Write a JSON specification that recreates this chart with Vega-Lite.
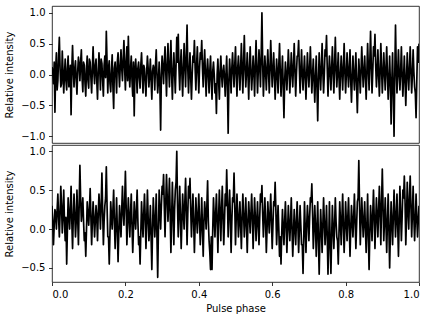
{
"$schema": "https://vega.github.io/schema/vega-lite/v6.json",
"padding": {"left": 4, "top": 5, "right": 8, "bottom": 4},
"spacing": 0,
"config": {
 "font": "DejaVu Sans",
 "view": {"stroke": "#000000", "strokeWidth": 0.8},
 "axis": {"grid": false, "domain": false, "labelFont": "DejaVu Sans", "titleFont": "DejaVu Sans", "labelFontSize": 10, "titleFontSize": 10, "titleFontWeight": "normal", "labelColor": "#000000", "titleColor": "#000000", "tickColor": "#000000", "tickSize": 3.5, "tickWidth": 0.8, "labelPadding": 3.5}
},
"data": {"values": [
{"x":0,"t":0.12,"b":0.3},{"x":0.004,"t":-0.15,"b":-0.2},{"x":0.008,"t":-0.61,"b":0.25},{"x":0.012,"t":0.35,"b":0.0},{"x":0.016,"t":-0.1,"b":0.45},{"x":0.02,"t":0.6,"b":-0.1},{"x":0.024,"t":-0.2,"b":0.55},{"x":0.028,"t":0.38,"b":-0.05},{"x":0.032,"t":-0.3,"b":0.5},{"x":0.036,"t":0.25,"b":-0.15},
{"x":0.04,"t":-0.25,"b":-0.45},{"x":0.044,"t":0.3,"b":0.4},{"x":0.048,"t":-0.05,"b":0.0},{"x":0.052,"t":-0.65,"b":0.55},{"x":0.056,"t":0.47,"b":-0.25},{"x":0.06,"t":-0.2,"b":0.45},{"x":0.064,"t":0.22,"b":-0.1},{"x":0.068,"t":-0.32,"b":0.5},{"x":0.072,"t":0.28,"b":-0.2},{"x":0.076,"t":-0.1,"b":0.82},
{"x":0.08,"t":0.4,"b":0.1},{"x":0.084,"t":-0.28,"b":0.4},{"x":0.088,"t":0.15,"b":-0.15},{"x":0.092,"t":-0.35,"b":-0.35},{"x":0.096,"t":0.3,"b":0.35},{"x":0.1,"t":-0.22,"b":0.05},{"x":0.104,"t":0.2,"b":0.52},{"x":0.108,"t":-0.3,"b":-0.2},{"x":0.112,"t":0.45,"b":0.35},{"x":0.116,"t":-0.15,"b":-0.1},
{"x":0.12,"t":0.25,"b":0.3},{"x":0.124,"t":-0.4,"b":-0.15},{"x":0.128,"t":0.35,"b":0.45},{"x":0.132,"t":-0.25,"b":0.0},{"x":0.136,"t":0.18,"b":0.72},{"x":0.14,"t":-0.35,"b":-0.2},{"x":0.144,"t":0.3,"b":0.3},{"x":0.148,"t":0.7,"b":0.8},{"x":0.152,"t":-0.3,"b":-0.1},{"x":0.156,"t":0.22,"b":-0.45},
{"x":0.16,"t":-0.28,"b":0.35},{"x":0.164,"t":0.32,"b":0.0},{"x":0.168,"t":-0.55,"b":0.5},{"x":0.172,"t":0.2,"b":-0.25},{"x":0.176,"t":-0.3,"b":0.4},{"x":0.18,"t":0.35,"b":-0.42},{"x":0.184,"t":-0.2,"b":0.3},{"x":0.188,"t":0.4,"b":-0.1},{"x":0.192,"t":-0.1,"b":0.55},{"x":0.196,"t":0.55,"b":0.05},
{"x":0.2,"t":-0.25,"b":0.74},{"x":0.204,"t":0.45,"b":-0.2},{"x":0.208,"t":0.62,"b":0.4},{"x":0.212,"t":-0.2,"b":-0.1},{"x":0.216,"t":0.3,"b":0.45},{"x":0.22,"t":-0.35,"b":-0.3},{"x":0.224,"t":-0.67,"b":0.35},{"x":0.228,"t":0.25,"b":0.0},{"x":0.232,"t":-0.3,"b":0.5},{"x":0.236,"t":0.2,"b":-0.2},
{"x":0.24,"t":-0.22,"b":-0.45},{"x":0.244,"t":0.35,"b":0.35},{"x":0.248,"t":-0.3,"b":-0.1},{"x":0.252,"t":0.1,"b":0.45},{"x":0.256,"t":-0.35,"b":-0.25},{"x":0.26,"t":0.3,"b":0.5},{"x":0.264,"t":-0.2,"b":-0.15},{"x":0.268,"t":0.25,"b":0.3},{"x":0.272,"t":-0.4,"b":-0.52},{"x":0.276,"t":0.15,"b":0.4},
{"x":0.28,"t":-0.25,"b":-0.1},{"x":0.284,"t":0.4,"b":0.45},{"x":0.288,"t":-0.3,"b":-0.62},{"x":0.292,"t":0.2,"b":0.5},{"x":0.296,"t":-0.9,"b":0.0},{"x":0.3,"t":0.3,"b":0.55},{"x":0.304,"t":-0.15,"b":0.7},{"x":0.308,"t":0.45,"b":-0.1},{"x":0.312,"t":-0.35,"b":0.7},{"x":0.316,"t":0.5,"b":0.1},
{"x":0.32,"t":-0.2,"b":0.65},{"x":0.324,"t":0.55,"b":-0.3},{"x":0.328,"t":-0.4,"b":0.6},{"x":0.332,"t":0.35,"b":-0.2},{"x":0.336,"t":-0.3,"b":0.5},{"x":0.34,"t":0.6,"b":1.0},{"x":0.344,"t":0.65,"b":-0.1},{"x":0.348,"t":-0.25,"b":0.55},{"x":0.352,"t":0.4,"b":-0.25},{"x":0.356,"t":-0.35,"b":0.45},
{"x":0.36,"t":0.5,"b":0.0},{"x":0.364,"t":-0.2,"b":0.65},{"x":0.368,"t":0.8,"b":-0.2},{"x":0.372,"t":-0.3,"b":0.55},{"x":0.376,"t":0.35,"b":0.65},{"x":0.38,"t":-0.4,"b":-0.1},{"x":0.384,"t":0.3,"b":0.45},{"x":0.388,"t":0.55,"b":-0.3},{"x":0.392,"t":-0.25,"b":0.4},{"x":0.396,"t":0.45,"b":-0.05},
{"x":0.4,"t":-0.3,"b":0.45},{"x":0.404,"t":0.35,"b":-0.2},{"x":0.408,"t":0.55,"b":0.4},{"x":0.412,"t":-0.2,"b":-0.35},{"x":0.416,"t":0.4,"b":0.35},{"x":0.42,"t":-0.35,"b":0.0},{"x":0.424,"t":0.25,"b":0.62},{"x":0.428,"t":-0.3,"b":-0.15},{"x":0.432,"t":0.3,"b":-0.52},{"x":0.436,"t":-0.4,"b":-0.52},
{"x":0.44,"t":0.2,"b":0.4},{"x":0.444,"t":-0.3,"b":-0.1},{"x":0.448,"t":-0.63,"b":0.45},{"x":0.452,"t":0.25,"b":-0.3},{"x":0.456,"t":-0.4,"b":0.5},{"x":0.46,"t":0.3,"b":-0.15},{"x":0.464,"t":-0.2,"b":0.55},{"x":0.468,"t":0.15,"b":-0.2},{"x":0.472,"t":-0.35,"b":0.45},{"x":0.476,"t":0.3,"b":0.76},
{"x":0.48,"t":-0.95,"b":-0.1},{"x":0.484,"t":0.25,"b":0.5},{"x":0.488,"t":-0.3,"b":-0.3},{"x":0.492,"t":0.35,"b":0.4},{"x":0.496,"t":-0.2,"b":0.72},{"x":0.5,"t":0.45,"b":-0.2},{"x":0.504,"t":-0.35,"b":0.45},{"x":0.508,"t":0.3,"b":-0.1},{"x":0.512,"t":-0.25,"b":0.35},{"x":0.516,"t":0.5,"b":-0.25},
{"x":0.52,"t":-0.3,"b":0.45},{"x":0.524,"t":0.63,"b":-0.1},{"x":0.528,"t":-0.2,"b":0.4},{"x":0.532,"t":0.35,"b":-0.3},{"x":0.536,"t":-0.4,"b":0.35},{"x":0.54,"t":0.45,"b":-0.05},{"x":0.544,"t":-0.25,"b":0.45},{"x":0.548,"t":0.3,"b":-0.25},{"x":0.552,"t":-0.35,"b":0.4},{"x":0.556,"t":0.55,"b":-0.15},
{"x":0.56,"t":-0.3,"b":0.35},{"x":0.564,"t":0.4,"b":-0.2},{"x":0.568,"t":-0.2,"b":0.45},{"x":0.572,"t":1.0,"b":0.56},{"x":0.576,"t":-0.35,"b":-0.1},{"x":0.58,"t":0.3,"b":0.4},{"x":0.584,"t":-0.25,"b":-0.3},{"x":0.588,"t":0.4,"b":0.35},{"x":0.592,"t":-0.3,"b":-0.05},{"x":0.596,"t":0.55,"b":0.45},
{"x":0.6,"t":-0.2,"b":-0.25},{"x":0.604,"t":0.35,"b":0.35},{"x":0.608,"t":-0.4,"b":0.6},{"x":0.612,"t":0.25,"b":-0.2},{"x":0.616,"t":-0.3,"b":0.3},{"x":0.62,"t":0.5,"b":-0.35},{"x":0.624,"t":-0.35,"b":-0.45},{"x":0.628,"t":0.3,"b":0.25},{"x":0.632,"t":-0.7,"b":-0.2},{"x":0.636,"t":0.2,"b":0.35},
{"x":0.64,"t":-0.25,"b":-0.3},{"x":0.644,"t":0.4,"b":0.3},{"x":0.648,"t":-0.3,"b":-0.15},{"x":0.652,"t":0.35,"b":0.4},{"x":0.656,"t":-0.2,"b":-0.35},{"x":0.66,"t":0.5,"b":0.25},{"x":0.664,"t":-0.35,"b":-0.2},{"x":0.668,"t":0.3,"b":0.35},{"x":0.672,"t":0.55,"b":-0.3},{"x":0.676,"t":-0.3,"b":0.3},
{"x":0.68,"t":0.4,"b":-0.2},{"x":0.684,"t":-0.25,"b":-0.57},{"x":0.688,"t":0.3,"b":0.35},{"x":0.692,"t":-0.4,"b":-0.3},{"x":0.696,"t":0.35,"b":0.3},{"x":0.7,"t":-0.2,"b":-0.15},{"x":0.704,"t":0.45,"b":0.4},{"x":0.708,"t":-0.3,"b":0.58},{"x":0.712,"t":0.25,"b":-0.25},{"x":0.716,"t":-0.45,"b":0.3},
{"x":0.72,"t":0.3,"b":-0.35},{"x":0.724,"t":-0.75,"b":0.35},{"x":0.728,"t":0.35,"b":-0.58},{"x":0.732,"t":-0.25,"b":0.25},{"x":0.736,"t":0.5,"b":-0.3},{"x":0.74,"t":-0.3,"b":0.4},{"x":0.744,"t":0.4,"b":-0.2},{"x":0.748,"t":0.63,"b":0.3},{"x":0.752,"t":-0.35,"b":-0.58},{"x":0.756,"t":0.3,"b":0.35},
{"x":0.76,"t":-0.25,"b":-0.57},{"x":0.764,"t":0.45,"b":0.3},{"x":0.768,"t":-0.3,"b":-0.25},{"x":0.772,"t":0.6,"b":0.4},{"x":0.776,"t":-0.2,"b":-0.1},{"x":0.78,"t":0.35,"b":-0.45},{"x":0.784,"t":-0.4,"b":0.35},{"x":0.788,"t":0.3,"b":-0.2},{"x":0.792,"t":-0.25,"b":0.45},{"x":0.796,"t":0.5,"b":-0.3},
{"x":0.8,"t":-0.3,"b":0.35},{"x":0.804,"t":0.35,"b":-0.15},{"x":0.808,"t":-0.2,"b":0.4},{"x":0.812,"t":0.4,"b":-0.35},{"x":0.816,"t":-0.45,"b":0.3},{"x":0.82,"t":0.3,"b":-0.1},{"x":0.824,"t":-0.25,"b":0.45},{"x":0.828,"t":0.35,"b":-0.25},{"x":0.832,"t":-0.62,"b":0.35},{"x":0.836,"t":0.25,"b":0.88},
{"x":0.84,"t":-0.3,"b":-0.2},{"x":0.844,"t":0.45,"b":0.4},{"x":0.848,"t":-0.2,"b":-0.1},{"x":0.852,"t":0.3,"b":0.35},{"x":0.856,"t":-0.4,"b":-0.3},{"x":0.86,"t":0.5,"b":0.45},{"x":0.864,"t":-0.25,"b":-0.52},{"x":0.868,"t":0.7,"b":0.3},{"x":0.872,"t":-0.3,"b":-0.15},{"x":0.876,"t":0.45,"b":0.5},
{"x":0.88,"t":0.65,"b":-0.25},{"x":0.884,"t":-0.2,"b":0.4},{"x":0.888,"t":0.4,"b":-0.1},{"x":0.892,"t":-0.35,"b":0.55},{"x":0.896,"t":0.5,"b":-0.2},{"x":0.9,"t":-0.3,"b":0.77},{"x":0.904,"t":0.35,"b":-0.15},{"x":0.908,"t":-0.25,"b":0.4},{"x":0.912,"t":0.45,"b":-0.3},{"x":0.916,"t":-0.4,"b":0.45},
{"x":0.92,"t":0.3,"b":-0.5},{"x":0.924,"t":-0.8,"b":0.35},{"x":0.928,"t":0.35,"b":-0.2},{"x":0.932,"t":-1.0,"b":0.5},{"x":0.936,"t":0.8,"b":-0.1},{"x":0.94,"t":-0.3,"b":0.45},{"x":0.944,"t":0.4,"b":-0.35},{"x":0.948,"t":-0.25,"b":0.55},{"x":0.952,"t":0.45,"b":-0.15},{"x":0.956,"t":-0.35,"b":0.5},
{"x":0.96,"t":0.3,"b":0.68},{"x":0.964,"t":-0.5,"b":-0.2},{"x":0.968,"t":0.35,"b":0.6},{"x":0.972,"t":-0.25,"b":0.0},{"x":0.976,"t":0.45,"b":0.68},{"x":0.98,"t":-0.3,"b":-0.1},{"x":0.984,"t":0.4,"b":0.55},{"x":0.988,"t":-0.2,"b":-0.15},{"x":0.992,"t":-0.7,"b":0.45},{"x":0.996,"t":0.45,"b":-0.1},
{"x":1.0,"t":0.5,"b":0.3},
{"x":0.002,"t":0.05,"b":0.1},{"x":0.006,"t":0.2,"b":0.05},{"x":0.01,"t":0.1,"b":0.2},{"x":0.014,"t":-0.25,"b":0.25},{"x":0.018,"t":0.3,"b":0.15},{"x":0.022,"t":0.1,"b":0.2},{"x":0.026,"t":-0.15,"b":0.3},{"x":0.03,"t":0.05,"b":0.2},{"x":0.034,"t":0.0,"b":0.1},{"x":0.038,"t":-0.1,"b":0.15},
{"x":0.042,"t":0.1,"b":0.0},{"x":0.046,"t":-0.2,"b":0.2},{"x":0.05,"t":0.15,"b":0.25},{"x":0.054,"t":0.1,"b":0.1},{"x":0.058,"t":0.05,"b":0.15},{"x":0.062,"t":0.1,"b":0.2},{"x":0.066,"t":-0.1,"b":0.1},{"x":0.07,"t":0.05,"b":0.15},{"x":0.074,"t":0.15,"b":0.3},{"x":0.078,"t":0.2,"b":0.4},
{"x":0.082,"t":-0.05,"b":0.25},{"x":0.086,"t":0.2,"b":0.1},{"x":0.09,"t":-0.15,"b":-0.05},{"x":0.094,"t":0.1,"b":0.0},{"x":0.098,"t":-0.1,"b":0.2},{"x":0.102,"t":0.25,"b":0.25},{"x":0.106,"t":-0.05,"b":0.15},{"x":0.11,"t":0.1,"b":0.1},{"x":0.114,"t":0.05,"b":0.15},{"x":0.118,"t":0.15,"b":0.1},
{"x":0.122,"t":-0.1,"b":0.15},{"x":0.126,"t":0.05,"b":0.2},{"x":0.13,"t":0.1,"b":0.25},{"x":0.134,"t":0.25,"b":0.3},{"x":0.138,"t":-0.1,"b":0.25},{"x":0.142,"t":0.15,"b":0.1},{"x":0.146,"t":-0.05,"b":0.4},{"x":0.15,"t":0.2,"b":0.3},{"x":0.154,"t":0.1,"b":-0.1},{"x":0.158,"t":-0.15,"b":-0.05},
{"x":0.162,"t":0.05,"b":0.15},{"x":0.166,"t":-0.2,"b":0.25},{"x":0.17,"t":0.1,"b":0.1},{"x":0.174,"t":0.0,"b":0.05},{"x":0.178,"t":0.2,"b":0.0},{"x":0.182,"t":0.05,"b":-0.05},{"x":0.186,"t":0.15,"b":0.1},{"x":0.19,"t":0.1,"b":0.25},{"x":0.194,"t":0.25,"b":0.2},{"x":0.198,"t":0.1,"b":0.35},
{"x":0.202,"t":0.2,"b":0.3},{"x":0.206,"t":-0.1,"b":0.1},{"x":0.21,"t":0.05,"b":0.15},{"x":0.214,"t":0.1,"b":0.2},{"x":0.218,"t":-0.1,"b":0.05},{"x":0.222,"t":0.2,"b":0.0},{"x":0.226,"t":0.05,"b":0.15},{"x":0.23,"t":0.0,"b":0.25},{"x":0.234,"t":0.1,"b":0.1},{"x":0.238,"t":-0.05,"b":-0.1},
{"x":0.242,"t":0.15,"b":-0.05},{"x":0.246,"t":0.0,"b":0.1},{"x":0.25,"t":0.15,"b":0.2},{"x":0.254,"t":-0.15,"b":0.15},{"x":0.258,"t":0.05,"b":0.1},{"x":0.262,"t":0.1,"b":0.15},{"x":0.266,"t":0.0,"b":0.0},{"x":0.27,"t":-0.1,"b":-0.1},{"x":0.274,"t":0.05,"b":0.0},{"x":0.278,"t":0.1,"b":0.15},
{"x":0.282,"t":0.15,"b":0.1},{"x":0.286,"t":0.0,"b":-0.1},{"x":0.29,"t":-0.1,"b":0.0},{"x":0.294,"t":-0.2,"b":0.25},{"x":0.298,"t":0.0,"b":0.3},{"x":0.302,"t":0.1,"b":0.45},{"x":0.306,"t":0.2,"b":0.3},{"x":0.31,"t":0.05,"b":0.35},{"x":0.314,"t":0.15,"b":0.4},{"x":0.318,"t":0.1,"b":0.35},
{"x":0.322,"t":0.2,"b":0.2},{"x":0.326,"t":0.0,"b":0.15},{"x":0.33,"t":0.05,"b":0.2},{"x":0.334,"t":0.05,"b":0.25},{"x":0.338,"t":0.15,"b":0.6},{"x":0.342,"t":0.2,"b":0.3},{"x":0.346,"t":0.1,"b":0.2},{"x":0.35,"t":0.15,"b":0.15},{"x":0.354,"t":0.0,"b":0.1},{"x":0.358,"t":0.1,"b":0.2},
{"x":0.362,"t":0.15,"b":0.35},{"x":0.366,"t":0.3,"b":0.25},{"x":0.37,"t":0.1,"b":0.2},{"x":0.374,"t":0.05,"b":0.4},{"x":0.378,"t":-0.05,"b":0.25},{"x":0.382,"t":0.0,"b":0.2},{"x":0.386,"t":0.2,"b":0.1},{"x":0.39,"t":0.1,"b":0.05},{"x":0.394,"t":0.15,"b":0.15},{"x":0.398,"t":0.05,"b":0.2},
{"x":0.402,"t":0.1,"b":0.1},{"x":0.406,"t":0.25,"b":0.05},{"x":0.41,"t":0.1,"b":0.0},{"x":0.414,"t":0.15,"b":0.1},{"x":0.418,"t":0.0,"b":0.2},{"x":0.422,"t":0.05,"b":0.3},{"x":0.426,"t":0.0,"b":0.1},{"x":0.43,"t":0.05,"b":-0.3},{"x":0.434,"t":-0.1,"b":-0.1},{"x":0.438,"t":0.05,"b":0.0},
{"x":0.442,"t":0.0,"b":0.15},{"x":0.446,"t":-0.15,"b":0.2},{"x":0.45,"t":0.0,"b":0.1},{"x":0.454,"t":-0.1,"b":0.15},{"x":0.458,"t":0.05,"b":0.2},{"x":0.462,"t":0.0,"b":0.25},{"x":0.466,"t":0.05,"b":0.15},{"x":0.47,"t":-0.05,"b":0.1},{"x":0.474,"t":0.0,"b":0.3},{"x":0.478,"t":-0.2,"b":0.35},
{"x":0.482,"t":-0.1,"b":0.2},{"x":0.486,"t":0.0,"b":0.15},{"x":0.49,"t":0.1,"b":0.1},{"x":0.494,"t":0.05,"b":0.35},{"x":0.498,"t":0.15,"b":0.3},{"x":0.502,"t":0.0,"b":0.15},{"x":0.506,"t":0.1,"b":0.2},{"x":0.51,"t":0.05,"b":0.1},{"x":0.514,"t":0.1,"b":0.05},{"x":0.518,"t":0.05,"b":0.15},
{"x":0.522,"t":0.2,"b":0.2},{"x":0.526,"t":0.1,"b":0.1},{"x":0.53,"t":0.05,"b":0.05},{"x":0.534,"t":0.0,"b":0.1},{"x":0.538,"t":0.1,"b":0.15},{"x":0.542,"t":0.05,"b":0.2},{"x":0.546,"t":0.0,"b":0.15},{"x":0.55,"t":0.05,"b":0.1},{"x":0.554,"t":0.15,"b":0.15},{"x":0.558,"t":0.1,"b":0.1},
{"x":0.562,"t":0.05,"b":0.05},{"x":0.566,"t":0.15,"b":0.15},{"x":0.57,"t":0.3,"b":0.35},{"x":0.574,"t":0.2,"b":0.2},{"x":0.578,"t":0.0,"b":0.15},{"x":0.582,"t":0.05,"b":0.1},{"x":0.586,"t":0.1,"b":0.0},{"x":0.59,"t":0.05,"b":0.15},{"x":0.594,"t":0.1,"b":0.2},{"x":0.598,"t":0.15,"b":0.1},
{"x":0.602,"t":0.05,"b":0.05},{"x":0.606,"t":0.0,"b":0.3},{"x":0.61,"t":-0.05,"b":0.25},{"x":0.614,"t":0.0,"b":0.05},{"x":0.618,"t":0.15,"b":0.0},{"x":0.622,"t":0.05,"b":-0.1},{"x":0.626,"t":0.0,"b":-0.05},{"x":0.63,"t":-0.2,"b":0.0},{"x":0.634,"t":-0.1,"b":0.1},{"x":0.638,"t":0.0,"b":0.05},
{"x":0.642,"t":0.05,"b":0.0},{"x":0.646,"t":0.1,"b":0.05},{"x":0.65,"t":0.0,"b":0.1},{"x":0.654,"t":0.05,"b":0.0},{"x":0.658,"t":0.15,"b":-0.05},{"x":0.662,"t":0.05,"b":0.0},{"x":0.666,"t":0.0,"b":0.1},{"x":0.67,"t":0.3,"b":0.05},{"x":0.674,"t":0.1,"b":0.0},{"x":0.678,"t":0.05,"b":0.05},
{"x":0.682,"t":0.0,"b":-0.2},{"x":0.686,"t":0.05,"b":-0.1},{"x":0.69,"t":-0.05,"b":0.0},{"x":0.694,"t":0.0,"b":0.05},{"x":0.698,"t":0.05,"b":0.1},{"x":0.702,"t":0.1,"b":0.15},{"x":0.706,"t":0.05,"b":0.35},{"x":0.71,"t":0.0,"b":0.2},{"x":0.714,"t":-0.1,"b":0.0},{"x":0.718,"t":-0.05,"b":0.05},
{"x":0.722,"t":-0.2,"b":0.0},{"x":0.726,"t":-0.1,"b":-0.15},{"x":0.73,"t":0.05,"b":-0.1},{"x":0.734,"t":0.1,"b":0.0},{"x":0.738,"t":0.05,"b":0.05},{"x":0.742,"t":0.0,"b":0.1},{"x":0.746,"t":0.3,"b":0.0},{"x":0.75,"t":0.1,"b":-0.1},{"x":0.754,"t":0.0,"b":-0.15},{"x":0.758,"t":0.05,"b":-0.2},
{"x":0.762,"t":0.1,"b":-0.1},{"x":0.766,"t":0.05,"b":0.0},{"x":0.77,"t":0.15,"b":0.05},{"x":0.774,"t":0.1,"b":0.1},{"x":0.778,"t":0.05,"b":-0.15},{"x":0.782,"t":-0.05,"b":-0.05},{"x":0.786,"t":0.0,"b":0.1},{"x":0.79,"t":0.05,"b":0.15},{"x":0.794,"t":0.1,"b":0.05},{"x":0.798,"t":0.05,"b":0.0},
{"x":0.802,"t":0.0,"b":0.1},{"x":0.806,"t":0.05,"b":0.15},{"x":0.81,"t":0.1,"b":0.05},{"x":0.814,"t":-0.1,"b":0.0},{"x":0.818,"t":-0.05,"b":0.1},{"x":0.822,"t":0.0,"b":0.15},{"x":0.826,"t":0.05,"b":0.1},{"x":0.83,"t":-0.2,"b":0.05},{"x":0.834,"t":-0.1,"b":0.4},{"x":0.838,"t":0.0,"b":0.3},
{"x":0.842,"t":0.05,"b":0.1},{"x":0.846,"t":0.1,"b":0.15},{"x":0.85,"t":0.05,"b":0.1},{"x":0.854,"t":-0.05,"b":0.0},{"x":0.858,"t":0.05,"b":0.05},{"x":0.862,"t":0.1,"b":-0.1},{"x":0.866,"t":0.2,"b":-0.05},{"x":0.87,"t":0.15,"b":0.1},{"x":0.874,"t":0.05,"b":0.2},{"x":0.878,"t":0.3,"b":0.15},
{"x":0.882,"t":0.15,"b":0.1},{"x":0.886,"t":0.05,"b":0.15},{"x":0.89,"t":0.0,"b":0.25},{"x":0.894,"t":0.05,"b":0.2},{"x":0.898,"t":0.1,"b":0.35},{"x":0.902,"t":0.0,"b":0.3},{"x":0.906,"t":0.05,"b":0.1},{"x":0.91,"t":0.1,"b":0.05},{"x":0.914,"t":0.0,"b":0.1},{"x":0.918,"t":-0.1,"b":0.0},
{"x":0.922,"t":-0.15,"b":-0.05},{"x":0.926,"t":-0.1,"b":0.1},{"x":0.93,"t":-0.3,"b":0.15},{"x":0.934,"t":0.0,"b":0.2},{"x":0.938,"t":0.1,"b":0.15},{"x":0.942,"t":0.05,"b":0.05},{"x":0.946,"t":0.0,"b":0.1},{"x":0.95,"t":0.05,"b":0.2},{"x":0.954,"t":0.0,"b":0.15},{"x":0.958,"t":-0.05,"b":0.4},
{"x":0.962,"t":-0.1,"b":0.35},{"x":0.966,"t":-0.05,"b":0.15},{"x":0.97,"t":0.0,"b":0.25},{"x":0.974,"t":0.1,"b":0.4},{"x":0.978,"t":0.05,"b":0.3},{"x":0.982,"t":0.0,"b":0.2},{"x":0.986,"t":0.05,"b":0.15},{"x":0.99,"t":-0.3,"b":0.1},{"x":0.994,"t":-0.1,"b":0.15},{"x":0.998,"t":0.2,"b":0.1}
]},
"vconcat": [
 {"width": 367, "height": 137,
  "mark": {"type": "line", "color": "#000000", "strokeWidth": 1.7, "strokeJoin": "round", "clip": true},
  "encoding": {
   "x": {"field": "x", "type": "quantitative", "scale": {"domain": [0, 1], "nice": false}, "axis": null},
   "y": {"field": "t", "type": "quantitative", "scale": {"domain": [-1.11, 1.11], "nice": false, "zero": false}, "axis": {"title": "Relative intensity", "values": [-1, -0.5, 0, 0.5, 1], "format": ".1f", "titlePadding": 6}}
  }},
 {"width": 367, "height": 137,
  "mark": {"type": "line", "color": "#000000", "strokeWidth": 1.7, "strokeJoin": "round", "clip": true},
  "encoding": {
   "x": {"field": "x", "type": "quantitative", "scale": {"domain": [0, 1], "nice": false}, "axis": {"title": "Pulse phase", "values": [0, 0.2, 0.4, 0.6, 0.8, 1], "format": ".1f", "titlePadding": 4}},
   "y": {"field": "b", "type": "quantitative", "scale": {"domain": [-0.68, 1.08], "nice": false, "zero": false}, "axis": {"title": "Relative intensity", "values": [-0.5, 0, 0.5, 1], "format": ".1f", "titlePadding": 6}}
  }}
]
}
